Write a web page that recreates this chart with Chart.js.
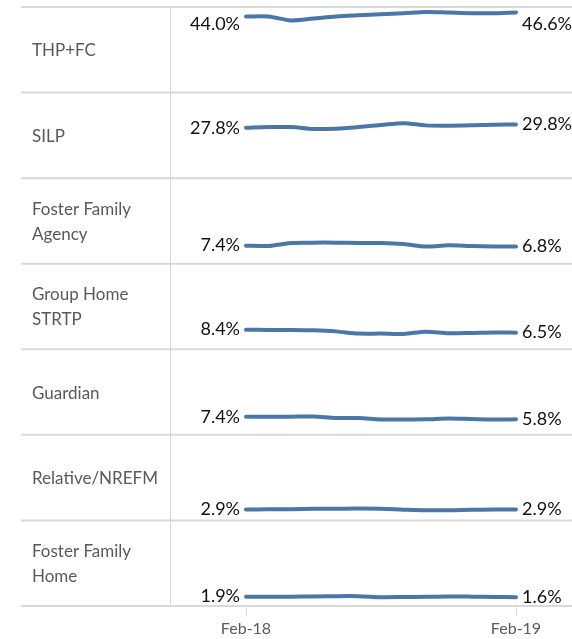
<!DOCTYPE html>
<html>
<head>
<meta charset="utf-8">
<script src="https://cdn.jsdelivr.net/npm/chart.js@4.4.0/dist/chart.umd.min.js"></script>
<style>
  html, body { margin: 0; padding: 0; background: #fff; }
  #wrap { width: 572px; height: 639px; }
</style>
</head>
<body>
<div id="wrap"><canvas id="trendChart"></canvas></div>
<script>
const months = ["Feb-18", "Mar-18", "Apr-18", "May-18", "Jun-18", "Jul-18", "Aug-18",
  "Sep-18", "Oct-18", "Nov-18", "Dec-18", "Jan-19", "Feb-19"];

const placements = ["THP+FC", "SILP", "Foster Family\nAgency", "Group Home\nSTRTP",
  "Guardian", "Relative/NREFM", "Foster Family\nHome"];

// percent of youth in each placement type, by month
const thpFc = [44.0, 44.0, 41.5, 42.7, 44.0, 44.8, 45.5, 46.1, 46.9, 46.5, 46.1, 46.1, 46.6];
const silp = [27.8, 28.2, 28.2, 27.0, 27.2, 28.2, 29.5, 30.7, 29.3, 29.1, 29.3, 29.7, 29.8];
const fosterAgency = [7.4, 7.2, 9.1, 9.3, 9.3, 9.1, 9.1, 8.4, 6.8, 7.6, 7.2, 6.9, 6.8];
const groupHome = [8.4, 8.2, 8.2, 8.0, 7.3, 5.9, 5.9, 5.7, 7.1, 6.1, 6.3, 6.6, 6.5];
const guardian = [7.4, 7.4, 7.5, 7.6, 6.6, 6.6, 5.7, 5.7, 5.8, 6.3, 6.0, 5.7, 5.8];
const relative = [2.9, 3.0, 3.1, 3.3, 3.4, 3.5, 3.3, 2.8, 2.4, 2.4, 2.7, 2.9, 2.9];
const fosterHome = [1.9, 1.8, 1.9, 2.0, 2.2, 2.2, 1.6, 1.7, 1.8, 2.0, 1.9, 1.7, 1.6];

const series = [thpFc, silp, fosterAgency, groupHome, guardian, relative, fosterHome];

const lineColor = "#4a77a8";
const gridColor = "#d9d9d9";
const labelFont = "Lato, 'Open Sans', sans-serif";

const datasets = series.map((data, i) => ({
  label: placements[i].replace("\n", " "),
  data: data,
  yAxisID: "row" + i,
  borderColor: lineColor,
  borderWidth: 4,
  borderCapStyle: "round",
  borderJoinStyle: "round",
  tension: 0.3,
  pointRadius: 0,
  fill: false,
}));

const scales = {
  x: {
    grid: {
      drawOnChartArea: false,
      tickLength: 10,
      tickWidth: 1,
      color: (ctx) => (ctx.index === 0 || ctx.index === months.length - 1 ? gridColor : "rgba(0,0,0,0)"),
    },
    border: { display: false },
    ticks: {
      autoSkip: false,
      maxRotation: 0,
      padding: 3,
      color: "#595959",
      font: { family: labelFont, size: 16 },
      callback: function (v, i) {
        return i === 0 || i === months.length - 1 ? this.getLabelForValue(v) : "";
      },
    },
    afterFit: (s) => { s.height = 33; },
  },
};
placements.forEach((p, i) => {
  scales["row" + i] = {
    type: "linear",
    display: false,
    position: "left",
    stack: "rows",
    stackWeight: 1,
    weight: placements.length - i,
    min: -4,
    max: 50,
  };
});

// table lines and placement names
const tableGrid = {
  id: "tableGrid",
  beforeDraw(chart) {
    const ctx = chart.ctx;
    const rows = placements.map((p, i) => chart.scales["row" + i]);
    ctx.save();
    ctx.strokeStyle = gridColor;
    ctx.lineWidth = 2;
    const ys = rows.map((s) => s.top).concat([rows[rows.length - 1].bottom]);
    ys.forEach((y) => {
      ctx.beginPath();
      ctx.moveTo(21, y);
      ctx.lineTo(chart.width, y);
      ctx.stroke();
    });
    ctx.lineWidth = 1;
    ctx.beginPath();
    ctx.moveTo(170.5, ys[0]);
    ctx.lineTo(170.5, ys[ys.length - 1]);
    ctx.stroke();

    ctx.fillStyle = "#595959";
    ctx.font = "17px " + labelFont;
    ctx.textAlign = "left";
    ctx.textBaseline = "middle";
    rows.forEach((s, i) => {
      const lines = placements[i].split("\n");
      const mid = (s.top + s.bottom) / 2 + 1;
      lines.forEach((t, j) => {
        ctx.fillText(t, 32, mid + (j - (lines.length - 1) / 2) * 25);
      });
    });
    ctx.restore();
  },
};

// first and last values beside each line
const endLabels = {
  id: "endLabels",
  afterDatasetsDraw(chart) {
    const ctx = chart.ctx;
    ctx.save();
    ctx.fillStyle = "#111";
    ctx.font = "18px " + labelFont;
    ctx.textBaseline = "middle";
    chart.data.datasets.forEach((ds, i) => {
      const meta = chart.getDatasetMeta(i);
      const scale = chart.scales[ds.yAxisID];
      const first = meta.data[0];
      const last = meta.data[meta.data.length - 1];
      ctx.textAlign = "right";
      ctx.fillText(ds.data[0].toFixed(1) + "%", first.x - 6, Math.max(first.y, scale.top + 17));
      ctx.textAlign = "left";
      ctx.fillText(ds.data[ds.data.length - 1].toFixed(1) + "%", last.x + 6, Math.max(last.y, scale.top + 17));
    });
    ctx.restore();
  },
};

new Chart(document.getElementById("trendChart"), {
  type: "line",
  data: { labels: months, datasets: datasets },
  options: {
    responsive: true,
    maintainAspectRatio: false,
    animation: false,
    layout: { padding: { left: 246, right: 56, top: 7, bottom: 0 } },
    scales: scales,
    plugins: {
      legend: { display: false },
      tooltip: { enabled: false },
    },
  },
  plugins: [tableGrid, endLabels],
});
</script>
</body>
</html>
